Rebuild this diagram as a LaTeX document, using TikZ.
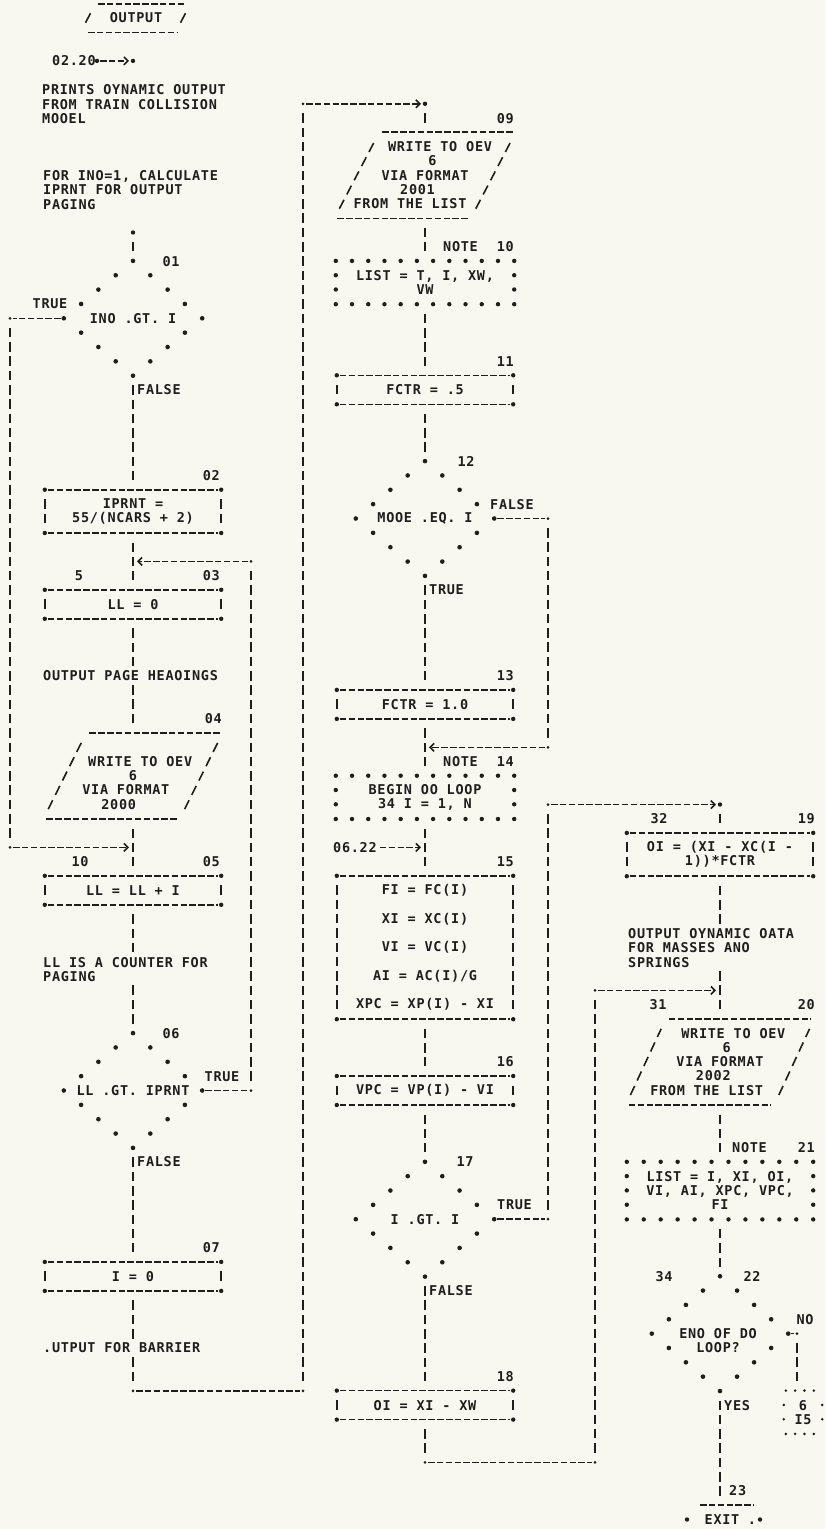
\documentclass[tikz,border=0pt]{standalone}
\usepackage{fontspec}
\newfontfamily\lpfont{DejaVu Sans Mono Bold}[LetterSpace=5.3]
\usetikzlibrary{calc,arrows.meta}
\definecolor{paper}{RGB}{248,247,240}
\definecolor{ink}{RGB}{30,30,30}
\tikzset{
  every node/.style={font=\lpfont\fontsize{13.5pt}{14.3pt}\selectfont, text=ink, inner sep=0pt},
  hflow/.style={ink, line width=1.6pt, dash pattern=on 6.5pt off 2.35pt, shorten <=3pt, shorten >=3pt},
  vflow/.style={ink, line width=1.7pt, dash pattern=on 9.5pt off 4.8pt, shorten <=9.55pt, shorten >=9.55pt},
  slash/.style={ink, line width=1.6pt, dash pattern=on 10pt off 6pt, shorten <=11pt, shorten >=11pt},
  arr/.style={-{Straight Barb[length=4pt,width=8pt]}, shorten >=4pt},
  box/.style={rectangle, minimum width=176pt, minimum height=28.6pt, align=center},
  cond/.style={rectangle, minimum width=138pt, minimum height=114.4pt, align=center},
  para/.style={rectangle, minimum width=136pt, minimum height=85.8pt},
  note/.style={rectangle, minimum width=178pt, align=center},
  lab/.style={anchor=base west, yshift=-4.9pt},
  labr/.style={anchor=base east, yshift=-4.9pt},
  labc/.style={anchor=base, yshift=-4.9pt},
  cmt/.style={anchor=north west, align=left, yshift=4.9pt}
}
\begin{document}
\begin{tikzpicture}[x=1pt, y=-14.3pt]
\fill[paper] (0pt,0pt) rectangle (825pt,-1529pt);
\useasboundingbox (0pt,0pt) rectangle (825pt,-1529pt);
\begin{scope}[yshift=-3.7pt]

% column 1
\node[labc] (term) at (136,1) {OUTPUT};
\draw[hflow] (95,0) -- (188,0);
\draw[hflow] (85,2) -- (180,2);
\draw[ink, line width=1.6pt] (85.5,1.33) -- (90.5,0.67);
\draw[ink, line width=1.6pt] (180.5,1.33) -- (185.5,0.67);
\node[lab] (ref0220) at (52,4) {02.20};
\coordinate (e0220) at (97,4);
\coordinate (in0220) at (133,4);
\node[cmt] (about) at (42,6) {PRINTS OYNAMIC OUTPUT\\FROM TRAIN COLLISION\\MOOEL};
\node[cmt] (ino) at (43,12) {FOR INO=1, CALCULATE\\IPRNT FOR OUTPUT\\PAGING};
\coordinate (in01) at (133,16);
\node[cond] (d01) at (133,22) {INO .GT. I};
\node[box, minimum height=42.9pt] (b02) at (133,35.5) {IPRNT =\\55/(NCARS + 2)};
\node[box] (b03) at (133,42) {LL = 0};
\node[lab] (heads) at (43,47) {OUTPUT PAGE HEAOINGS};
\node[para] (p04) at (133,54) {};
\node[box] (b05) at (133,62) {LL = LL + I};
\node[cmt] (counter) at (43,67) {LL IS A COUNTER FOR\\PAGING};
\node[cond] (d06) at (133,76) {LL .GT. IPRNT};
\node[box] (b07) at (133,89) {I = 0};
\node[lab] (barrier) at (43,94) {.UTPUT FOR BARRIER};

% column 2
\coordinate (in09) at (425,7);
\node[para] (p09) at (425,12) {};
\node[note, minimum height=42.9pt] (n10) at (425,19.5) {LIST = T, I, XW,\\VW};
\node[box] (b11) at (425,27) {FCTR = .5};
\node[cond] (d12) at (425,36) {MOOE .EQ. I};
\node[box] (b13) at (425,49) {FCTR = 1.0};
\node[note, minimum height=42.9pt] (n14) at (425,55.5) {BEGIN OO LOOP\\34 I = 1, N};
\node[lab] (ref0622) at (333,59) {06.22};
\node[box, minimum height=143pt] (b15) at (425,66) {FI = FC(I)\\[14.3pt]XI = XC(I)\\[14.3pt]VI = VC(I)\\[14.3pt]AI = AC(I)/G\\[14.3pt]XPC = XP(I) - XI};
\node[box] (b16) at (425,76) {VPC = VP(I) - VI};
\node[cond] (d17) at (425,85) {I .GT. I};
\node[box] (b18) at (425,98) {OI = XI - XW};

% column 3
\coordinate (in19) at (720,56);
\node[box, minimum width=186pt, minimum height=42.9pt] (b19) at (720,59.5) {OI = (XI - XC(I -\\1))*FCTR};
\node[cmt] (springs) at (628,65) {OUTPUT OYNAMIC OATA\\FOR MASSES ANO\\SPRINGS};
\node[para, minimum width=148pt] (p20) at (720,74) {};
\node[note, minimum width=186pt, minimum height=57.2pt] (n21) at (720,83) {LIST = I, XI, OI,\\VI, AI, XPC, VPC,\\FI};
\node[cond, minimum width=136pt] (d22) at (720,93) {};
\node[align=center] (d22t) at (718,93.5) {ENO OF DO\\LOOP?};
\node[rectangle, minimum width=40pt, minimum height=42.9pt, align=center] (off6) at (803,98.5) {6\\I5};
\node[labc] (exit) at (722,106) {EXIT};
\node[labc] (exitp) at (752,106) {.};

% parallelogram texts
\foreach \t [count=\i from 2] in {WRITE TO OEV,6,VIA FORMAT,2000}
  \node[labc] (p04-\i) at ($(p04.north)+({21.5-7.17*\i},\i)$) {\t};
\foreach \t [count=\i] in {WRITE TO OEV,6,VIA FORMAT,2001,FROM THE LIST}
  \node[labc] (p09-\i) at ($(p09.north)+({22.5-7.5*\i},\i)$) {\t};
\foreach \t [count=\i] in {WRITE TO OEV,6,VIA FORMAT,2002,FROM THE LIST}
  \node[labc] (p20-\i) at ($(p20.north)+({20-6.67*\i},\i)$) {\t};

% labels
\node[labc] (l01) at (171,18) {01};
\node[labc] (t01) at (50,21) {TRUE};
\node[lab] (f01) at (137,27) {FALSE};
\node[labr] (l02) at (220,33) {02};
\node[labc] (l5) at (79,40) {5};
\node[labr] (l03) at (220,40) {03};
\node[labr] (l04) at (222,50) {04};
\node[labc] (l10) at (80,60) {10};
\node[labr] (l05) at (220,60) {05};
\node[labc] (l06) at (171,72) {06};
\node[labc] (t06) at (222,75) {TRUE};
\node[lab] (f06) at (137,81) {FALSE};
\node[labr] (l07) at (220,87) {07};
\node[labr] (l09) at (514,8) {09};
\node[lab] (nt10) at (443,17) {NOTE};
\node[labr] (l10b) at (514,17) {10};
\node[labr] (l11) at (514,25) {11};
\node[labc] (l12) at (466,32) {12};
\node[lab] (f12) at (490,35) {FALSE};
\node[lab] (t12) at (429,41) {TRUE};
\node[labr] (l13) at (514,47) {13};
\node[lab] (nt14) at (443,53) {NOTE};
\node[labr] (l14) at (514,53) {14};
\node[labr] (l15) at (514,60) {15};
\node[labr] (l16) at (514,74) {16};
\node[labc] (l17) at (465,81) {17};
\node[lab] (t17) at (497,84) {TRUE};
\node[lab] (f17) at (429,90) {FALSE};
\node[labr] (l18) at (514,96) {18};
\node[labc] (l32) at (659,57) {32};
\node[labr] (l19) at (815,57) {19};
\node[labc] (l31) at (658,70) {31};
\node[labr] (l20) at (815,70) {20};
\node[lab] (nt21) at (732,80) {NOTE};
\node[labr] (l21) at (815,80) {21};
\node[labc] (l34) at (664,89) {34};
\node[labc] (l22) at (752,89) {22};
\node[labc] (lno) at (805,92) {NO};
\node[lab] (yes) at (724,98) {YES};
\node[lab] (l23) at (729,104) {23};

% loop corners
\coordinate (cA) at (10,22);
\coordinate (cB) at (10,59);
\coordinate (cC) at (251,39);
\coordinate (cD) at (251,76);
\coordinate (cE) at (133,97);
\coordinate (cF) at (303,97);
\coordinate (cG) at (303,7);
\coordinate (cH) at (548,36);
\coordinate (cI) at (548,52);
\coordinate (cJ) at (548,85);
\coordinate (cK) at (548,56);
\coordinate (cL) at (425,102);
\coordinate (cM) at (595,102);
\coordinate (cN) at (595,69);
\coordinate (cO) at (797,93);

% boxes
\foreach \b in {b02,b03,b05,b07,b11,b13,b15,b16,b18,b19}{
  \draw[hflow] (\b.north west) -- (\b.north east);
  \draw[hflow] (\b.south west) -- (\b.south east);
  \draw[vflow] (\b.north west) -- (\b.south west);
  \draw[vflow] (\b.north east) -- (\b.south east);
  \foreach \c in {north west,north east,south west,south east}
    \fill[ink] (\b.\c) circle (2.2pt);
}
% decisions
\foreach \d in {d01,d06,d12,d17,d22}
  \foreach \a/\e in {north/east,east/south,south/west,west/north}
    \foreach \t in {0,0.25,0.5,0.75}
      \fill[ink] ($(\d.\a)!\t!(\d.\e)$) circle (2.3pt);
% notes
\foreach \n/\rs in {n10/{1,2},n14/{1,2},n21/{1,2,3}}{
  \foreach \i in {0,...,11}{
    \fill[ink] ($(\n.north west)!\i/11!(\n.north east)$) circle (2.2pt);
    \fill[ink] ($(\n.south west)!\i/11!(\n.south east)$) circle (2.2pt);
  }
  \foreach \j in \rs{
    \fill[ink] ($(\n.north west)+(0,\j)$) circle (2.2pt);
    \fill[ink] ($(\n.north east)+(0,\j)$) circle (2.2pt);
  }
}
% input / output
\foreach \p/\h in {p04/21.5,p09/22.5,p20/20}{
  \draw[hflow] ($(\p.north west)+(\h,0)$) -- ($(\p.north east)+(\h,0)$);
  \draw[hflow] ($(\p.south west)-(\h,0)$) -- ($(\p.south east)-(\h,0)$);
  \draw[slash] ($(\p.south west)-(\h,0)$) -- ($(\p.north west)+(\h,0)$);
  \draw[slash] ($(\p.south east)-(\h,0)$) -- ($(\p.north east)+(\h,0)$);
}
% connector to page 6
\foreach \i in {0,...,3}{
  \fill[ink] ($(off6.north west)+(3+9.33*\i,0)$) circle (1.4pt);
  \fill[ink] ($(off6.south west)+(3+9.33*\i,0)$) circle (1.4pt);
}
\foreach \j in {1,2}{
  \fill[ink] ($(off6.north west)+(1,\j)$) circle (1.4pt);
  \fill[ink] ($(off6.north east)+(-1,\j)$) circle (1.4pt);
}
% exit
\draw[hflow] (697,105) -- (757,105);
\fill[ink] (687,106) circle (2.2pt);
\fill[ink] (760,106) circle (2.2pt);

% flow, column 1
\draw[hflow,arr] (e0220) -- (in0220);
\draw[vflow] (in01) -- (d01.north);
\draw[vflow] (d01.south) -- (b02.north);
\draw[vflow] (b02.south) -- (b03.north);
\draw[vflow] (b03.south) -- +(0,4);
\draw[vflow] (p04.north) -- +(0,-4);
\draw[vflow] (p04.south) -- (b05.north);
\draw[vflow] (b05.south) -- +(0,4);
\draw[vflow] (d06.north) -- +(0,-4);
\draw[vflow] (d06.south) -- (b07.north);
\draw[vflow] (b07.south) -- +(0,4);
\draw[vflow] (cE) -- +(0,-3);
\draw[hflow] (d01.west) -- (cA);
\draw[vflow] (cA) -- (cB);
\draw[hflow,arr] (cB) -- (cB -| b05.north);
\draw[hflow] (d06.east) -- (cD);
\draw[vflow] (cD) -- (cC);
\draw[hflow,arr] (cC) -- (cC -| b03.north);
\draw[hflow] (cE) -- (cF);
\draw[vflow] (cF) -- (cG);
\draw[hflow,arr] (cG) -- (in09);

% flow, column 2
\draw[vflow] (in09) -- (p09.north);
\draw[vflow] (p09.south) -- (n10.north);
\draw[vflow] (n10.south) -- (b11.north);
\draw[vflow] (b11.south) -- (d12.north);
\draw[vflow] (d12.south) -- (b13.north);
\draw[vflow] (b13.south) -- (n14.north);
\draw[vflow] (n14.south) -- (b15.north);
\draw[vflow] (b15.south) -- (b16.north);
\draw[vflow] (b16.south) -- (d17.north);
\draw[vflow] (d17.south) -- (b18.north);
\draw[vflow] (b18.south) -- (cL);
\draw[hflow] (d12.east) -- (cH);
\draw[vflow] (cH) -- (cI);
\draw[hflow,arr] (cI) -- (cI -| n14.north);
\draw[hflow,arr] (ref0622.east) -- (ref0622.east -| b15.north);
\draw[hflow] (d17.east) -- (cJ);
\draw[vflow] (cJ) -- (cK);
\draw[hflow,arr] (cK) -- (in19);
\draw[hflow] (cL) -- (cM);
\draw[vflow] (cM) -- (cN);
\draw[hflow,arr] (cN) -- (cN -| in19);

% flow, column 3
\draw[vflow] (in19) -- (b19.north);
\draw[vflow] (b19.south) -- +(0,4);
\draw[vflow] (p20.north) -- +(0,-4);
\draw[vflow] (p20.south) -- (n21.north);
\draw[vflow] (n21.south) -- (d22.north);
\draw[vflow] (d22.south) -- +(0,8);
\draw[hflow] (d22.east) -- (cO);
\draw[vflow] (cO) -- (cO |- off6.north);

% entry points and corners
\foreach \p in {e0220,in0220,in01,in09,in19}
  \fill[ink] (\p) circle (2.2pt);
\foreach \p in {cA,cB,cC,cD,cE,cF,cG,cH,cI,cJ,cK,cL,cM,cN,cO}
  \fill[ink] (\p) circle (1.5pt);
\end{scope}
\end{tikzpicture}
\end{document}
